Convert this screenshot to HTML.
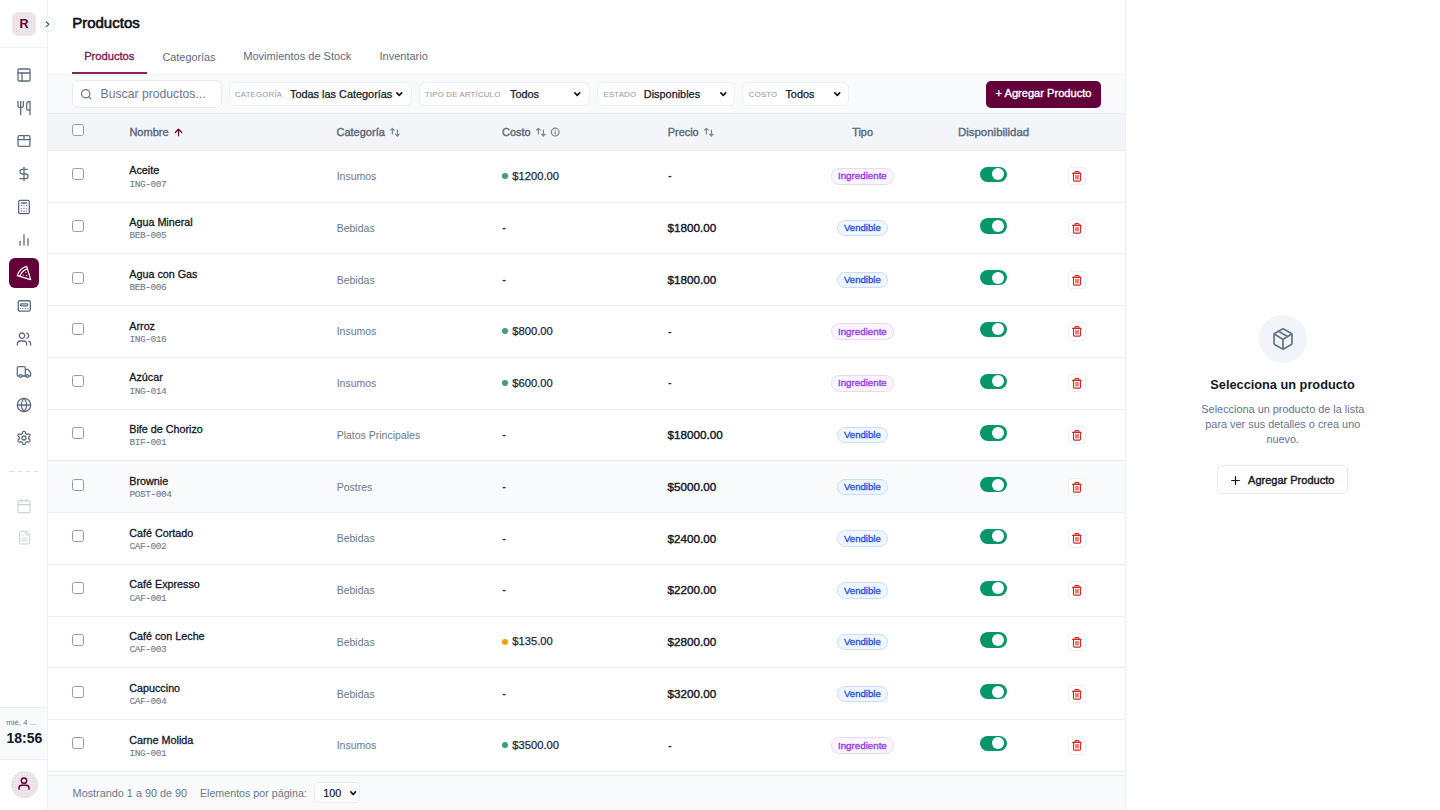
<!DOCTYPE html><html><head><meta charset="utf-8"><style>
html,body{margin:0;padding:0;width:1440px;height:810px;overflow:hidden;background:#fff;font-family:"Liberation Sans",sans-serif;}
body{position:relative;}
</style></head><body>
<div style="position:absolute;left:47.00px;top:0.00px;width:1.00px;height:810.00px;background:#eef1f5;"></div>
<div style="position:absolute;left:0.00px;top:47.00px;width:47.00px;height:1.00px;background:#eef1f5;"></div>
<div style="position:absolute;left:12.00px;top:12.00px;width:24.00px;height:24.00px;background-color:#ebe7eb;background-image:radial-gradient(circle, rgba(250,170,160,0.45) 0.6px, transparent 0.9px);background-size:3px 3px;border-radius:6px;"></div>
<div style="position:absolute;top:18.23px;font-size:12.6px;line-height:12.6px;font-weight:700;color:#63003a;white-space:nowrap;left:-275.90px;width:600px;text-align:center;">R</div>
<div style="position:absolute;left:40.00px;top:17.00px;width:15.00px;height:15.00px;background:#fff;border:1px solid #e3e7ed;border-radius:50%;box-sizing:border-box;"></div>
<svg style="position:absolute;left:40px;top:17px" width="15" height="15" viewBox="0 0 15 15" fill="none" stroke="#4b5563" stroke-width="1.25" stroke-linecap="round" stroke-linejoin="round"><path d="M6.3 5L8.9 7.3L6.3 9.6"/></svg>
<svg style="position:absolute;left:16.10px;top:67.00px;" width="16" height="16" viewBox="0 0 24 24" fill="none" stroke="#5b6b7e" stroke-width="1.9" stroke-linecap="round" stroke-linejoin="round"><rect width="18" height="18" x="3" y="3" rx="2"/><path d="M3 9h18"/><path d="M9 21V9"/></svg>
<svg style="position:absolute;left:16.10px;top:100.00px;" width="16" height="16" viewBox="0 0 24 24" fill="none" stroke="#5b6b7e" stroke-width="1.9" stroke-linecap="round" stroke-linejoin="round"><path d="M3 2v7c0 1.1.9 2 2 2h4a2 2 0 0 0 2-2V2"/><path d="M7 2v20"/><path d="M21 15V2a5 5 0 0 0-5 5v6c0 1.1.9 2 2 2h3Zm0 0v7"/></svg>
<svg style="position:absolute;left:16.10px;top:133.00px;" width="16" height="16" viewBox="0 0 24 24" fill="none" stroke="#5b6b7e" stroke-width="1.9" stroke-linecap="round" stroke-linejoin="round"><rect width="18" height="16" x="3" y="4" rx="2"/><path d="M3 10h18"/><path d="M12 4v6"/></svg>
<svg style="position:absolute;left:16.10px;top:166.00px;" width="16" height="16" viewBox="0 0 24 24" fill="none" stroke="#5b6b7e" stroke-width="1.9" stroke-linecap="round" stroke-linejoin="round"><line x1="12" x2="12" y1="2" y2="22"/><path d="M17 5H9.5a3.5 3.5 0 0 0 0 7h5a3.5 3.5 0 0 1 0 7H6"/></svg>
<svg style="position:absolute;left:16.10px;top:199.00px;" width="16" height="16" viewBox="0 0 24 24" fill="none" stroke="#5b6b7e" stroke-width="1.9" stroke-linecap="round" stroke-linejoin="round"><rect width="16" height="20" x="4" y="2" rx="2"/><line x1="8" x2="16" y1="6" y2="6"/><path d="M16 10h.01"/><path d="M12 10h.01"/><path d="M8 10h.01"/><path d="M16 14h.01"/><path d="M12 14h.01"/><path d="M8 14h.01"/><path d="M16 18h.01"/><path d="M12 18h.01"/><path d="M8 18h.01"/></svg>
<svg style="position:absolute;left:16.10px;top:232.00px;" width="16" height="16" viewBox="0 0 24 24" fill="none" stroke="#5b6b7e" stroke-width="1.9" stroke-linecap="round" stroke-linejoin="round"><line x1="18" x2="18" y1="20" y2="10"/><line x1="12" x2="12" y1="20" y2="4"/><line x1="6" x2="6" y1="20" y2="14"/></svg>
<div style="position:absolute;left:9.00px;top:258.00px;width:30.00px;height:30.00px;background:#63003a;border-radius:6px;"></div>
<svg style="position:absolute;left:15.90px;top:265.00px;" width="16" height="16" viewBox="0 0 24 24" fill="none" stroke="#fff" stroke-width="1.8" stroke-linecap="round" stroke-linejoin="round"><path d="M15 11h.01"/><path d="M11 15h.01"/><path d="M16 16h.01"/><path d="m2 16 20 6-6-20A20 20 0 0 0 2 16"/><path d="M5.71 17.11a17.04 17.04 0 0 1 11.4-11.4"/></svg>
<svg style="position:absolute;left:14px;top:296px" width="22" height="20" viewBox="0 0 22 20" fill="none" stroke="#5b6b7e" stroke-width="1.3" stroke-linecap="round" stroke-linejoin="round"><rect x="4.25" y="4.75" width="12.1" height="10.4" rx="1.6"/><rect x="6.65" y="7.85" width="7" height="2.1" rx="0.8"/><g fill="#5b6b7e" stroke="none"><circle cx="6.5" cy="12.5" r="0.6"/><circle cx="8.9" cy="12.5" r="0.6"/><circle cx="11.4" cy="12.5" r="0.6"/><circle cx="14" cy="12.5" r="0.6"/></g></svg>
<svg style="position:absolute;left:16.10px;top:331.00px;" width="16" height="16" viewBox="0 0 24 24" fill="none" stroke="#5b6b7e" stroke-width="1.9" stroke-linecap="round" stroke-linejoin="round"><path d="M16 21v-2a4 4 0 0 0-4-4H6a4 4 0 0 0-4 4v2"/><circle cx="9" cy="7" r="4"/><path d="M22 21v-2a4 4 0 0 0-3-3.87"/><path d="M16 3.13a4 4 0 0 1 0 7.75"/></svg>
<svg style="position:absolute;left:16.10px;top:364.00px;" width="16" height="16" viewBox="0 0 24 24" fill="none" stroke="#5b6b7e" stroke-width="1.9" stroke-linecap="round" stroke-linejoin="round"><path d="M14 18V6a2 2 0 0 0-2-2H4a2 2 0 0 0-2 2v11a1 1 0 0 0 1 1h2"/><path d="M15 18H9"/><path d="M19 18h2a1 1 0 0 0 1-1v-3.65a1 1 0 0 0-.22-.624l-3.48-4.35A1 1 0 0 0 17.520 8H14"/><circle cx="17" cy="18" r="2"/><circle cx="7" cy="18" r="2"/></svg>
<svg style="position:absolute;left:16.10px;top:397.00px;" width="16" height="16" viewBox="0 0 24 24" fill="none" stroke="#5b6b7e" stroke-width="1.9" stroke-linecap="round" stroke-linejoin="round"><circle cx="12" cy="12" r="10"/><path d="M12 2a14.5 14.5 0 0 0 0 20 14.5 14.5 0 0 0 0-20"/><path d="M2 12h20"/></svg>
<svg style="position:absolute;left:16.10px;top:430.00px;" width="16" height="16" viewBox="0 0 24 24" fill="none" stroke="#5b6b7e" stroke-width="1.9" stroke-linecap="round" stroke-linejoin="round"><path d="M12.22 2h-.44a2 2 0 0 0-2 2v.18a2 2 0 0 1-1 1.73l-.43.25a2 2 0 0 1-2 0l-.15-.08a2 2 0 0 0-2.73.73l-.22.38a2 2 0 0 0 .73 2.730l.15.1a2 2 0 0 1 1 1.72v.51a2 2 0 0 1-1 1.74l-.15.09a2 2 0 0 0-.73 2.73l.22.38a2 2 0 0 0 2.73.73l.15-.08a2 2 0 0 1 2 0l.43.25a2 2 0 0 1 1 1.73V20a2 2 0 0 0 2 2h.44a2 2 0 0 0 2-2v-.18a2 2 0 0 1 1-1.73l.43-.25a2 2 0 0 1 2 0l.15.08a2 2 0 0 0 2.73-.73l.22-.39a2 2 0 0 0-.73-2.73l-.15-.08a2 2 0 0 1-1-1.74v-.5a2 2 0 0 1 1-1.74l.15-.09a2 2 0 0 0 .73-2.73l-.22-.38a2 2 0 0 0-2.73-.73l-.15.08a2 2 0 0 1-2 0l-.43-.25a2 2 0 0 1-1-1.73V4a2 2 0 0 0-2-2z"/><circle cx="12" cy="12" r="3"/></svg>
<div style="position:absolute;left:9.20px;top:471.00px;width:4.40px;height:1.20px;background:#e2d9de;"></div>
<div style="position:absolute;left:17.50px;top:471.00px;width:4.40px;height:1.20px;background:#e2d9de;"></div>
<div style="position:absolute;left:25.80px;top:471.00px;width:4.40px;height:1.20px;background:#e2d9de;"></div>
<div style="position:absolute;left:34.10px;top:471.00px;width:4.40px;height:1.20px;background:#e2d9de;"></div>
<svg style="position:absolute;left:16.20px;top:497.50px;" width="16" height="16" viewBox="0 0 24 24" fill="none" stroke="#cdd3da" stroke-width="1.7" stroke-linecap="round" stroke-linejoin="round"><path d="M8 2v4"/><path d="M16 2v4"/><rect width="18" height="18" x="3" y="4" rx="2"/><path d="M3 10h18"/></svg>
<svg style="position:absolute;left:16.70px;top:530.40px;" width="15.2" height="15.2" viewBox="0 0 24 24" fill="none" stroke="#cdd3da" stroke-width="1.7" stroke-linecap="round" stroke-linejoin="round"><path d="M15 2H6a2 2 0 0 0-2 2v16a2 2 0 0 0 2 2h12a2 2 0 0 0 2-2V7Z"/><path d="M14 2v4a2 2 0 0 0 2 2h4"/><path d="M10 9H8"/><path d="M16 13H8"/><path d="M16 17H8"/></svg>
<div style="position:absolute;left:0.00px;top:707.00px;width:47.00px;height:51.00px;background:#f8fafc;border-top:1px solid #eef1f5;border-bottom:1px solid #eef1f5;"></div>
<div style="position:absolute;top:718.50px;font-size:7.8px;line-height:7.8px;font-weight:400;color:#6b7280;white-space:nowrap;left:6.30px;">mié, 4 ...</div>
<div style="position:absolute;top:730.95px;font-size:14.0px;line-height:14.0px;font-weight:700;color:#111827;white-space:nowrap;left:6.50px;">18:56</div>
<div style="position:absolute;left:11.00px;top:770.50px;width:27.00px;height:27.00px;background-color:#ebe7eb;background-image:radial-gradient(circle, rgba(250,170,160,0.45) 0.6px, transparent 0.9px);background-size:3px 3px;border-radius:50%;"></div>
<svg style="position:absolute;left:16.20px;top:776.20px;" width="16" height="16" viewBox="0 0 24 24" fill="none" stroke="#63003a" stroke-width="2.2" stroke-linecap="round" stroke-linejoin="round"><circle cx="12" cy="7" r="4"/><path d="M19.5 20v-2a4 4 0 0 0-4-4h-7a4 4 0 0 0-4 4v2"/></svg>
<div style="position:absolute;left:1125.00px;top:0.00px;width:1.00px;height:810.00px;background:#eef1f5;"></div>
<div style="position:absolute;top:15.20px;font-size:15px;line-height:15px;font-weight:400;color:#0b1020;white-space:nowrap;-webkit-text-stroke:0.6px #0b1020;left:72.20px;">Productos</div>
<div style="position:absolute;top:51.26px;font-size:11.15px;line-height:11.15px;font-weight:400;color:#7a1d52;white-space:nowrap;-webkit-text-stroke:0.35px #7a1d52;left:84.20px;">Productos</div>
<div style="position:absolute;top:51.52px;font-size:10.85px;line-height:10.85px;font-weight:400;color:#5e6b7c;white-space:nowrap;left:162.50px;">Categorías</div>
<div style="position:absolute;top:51.35px;font-size:11.05px;line-height:11.05px;font-weight:400;color:#5e6b7c;white-space:nowrap;left:243.20px;">Movimientos de Stock</div>
<div style="position:absolute;top:51.39px;font-size:11.0px;line-height:11.0px;font-weight:400;color:#5e6b7c;white-space:nowrap;left:379.50px;">Inventario</div>
<div style="position:absolute;left:72.00px;top:72.00px;width:75.00px;height:2.00px;background:#8a2358;"></div>
<div style="position:absolute;left:48.00px;top:74.00px;width:1077.00px;height:39.00px;background:#f8fafc;border-top:1px solid #eef1f5;box-sizing:border-box;"></div>
<div style="position:absolute;left:72.00px;top:80.00px;width:150.00px;height:27.50px;background:#fff;border:1px solid #e8ecf1;border-radius:6px;box-sizing:border-box;"></div>
<svg style="position:absolute;left:80.10px;top:87.70px;" width="12.5" height="12.5" viewBox="0 0 24 24" fill="none" stroke="#64748b" stroke-width="2.2" stroke-linecap="round" stroke-linejoin="round"><circle cx="11" cy="11" r="8"/><path d="m21 21-4.3-4.3"/></svg>
<div style="position:absolute;top:87.67px;font-size:12.2px;line-height:12.2px;font-weight:400;color:#6b7889;white-space:nowrap;left:100.60px;">Buscar productos...</div>
<div style="position:absolute;left:228.50px;top:81.50px;width:183.00px;height:24.50px;background:#fff;border:1px solid #edf0f4;border-radius:6px;box-sizing:border-box;"></div>
<div style="position:absolute;top:90.50px;font-size:7.8px;line-height:7.8px;font-weight:400;color:#9aa3af;white-space:nowrap;-webkit-text-stroke:0.12px #9aa3af;letter-spacing:0.2px;left:235.00px;">CATEGORÍA</div>
<div style="position:absolute;top:89.27px;font-size:10.9px;line-height:10.9px;font-weight:400;color:#111827;white-space:nowrap;-webkit-text-stroke:0.25px #111827;left:290.00px;">Todas las Categorías</div>
<svg style="position:absolute;left:394.00px;top:90.00px" width="10.5" height="8.2" viewBox="0 0 10.5 8.2" fill="none" stroke="#111827" stroke-width="1.7" stroke-linecap="round" stroke-linejoin="round"><path d="M2.85 2.85 L5.25 5.3500000000000005 L7.65 2.85"/></svg>
<div style="position:absolute;left:418.50px;top:81.50px;width:171.50px;height:24.50px;background:#fff;border:1px solid #edf0f4;border-radius:6px;box-sizing:border-box;"></div>
<div style="position:absolute;top:90.50px;font-size:7.8px;line-height:7.8px;font-weight:400;color:#9aa3af;white-space:nowrap;-webkit-text-stroke:0.12px #9aa3af;letter-spacing:0.2px;left:425.00px;">TIPO DE ARTÍCULO</div>
<div style="position:absolute;top:89.27px;font-size:10.9px;line-height:10.9px;font-weight:400;color:#111827;white-space:nowrap;-webkit-text-stroke:0.25px #111827;left:510.00px;">Todos</div>
<svg style="position:absolute;left:572.20px;top:90.00px" width="10.5" height="8.2" viewBox="0 0 10.5 8.2" fill="none" stroke="#111827" stroke-width="1.7" stroke-linecap="round" stroke-linejoin="round"><path d="M2.85 2.85 L5.25 5.3500000000000005 L7.65 2.85"/></svg>
<div style="position:absolute;left:597.00px;top:81.50px;width:138.30px;height:24.50px;background:#fff;border:1px solid #edf0f4;border-radius:6px;box-sizing:border-box;"></div>
<div style="position:absolute;top:90.50px;font-size:7.8px;line-height:7.8px;font-weight:400;color:#9aa3af;white-space:nowrap;-webkit-text-stroke:0.12px #9aa3af;letter-spacing:0.2px;left:603.50px;">ESTADO</div>
<div style="position:absolute;top:89.27px;font-size:10.9px;line-height:10.9px;font-weight:400;color:#111827;white-space:nowrap;-webkit-text-stroke:0.25px #111827;left:643.80px;">Disponibles</div>
<svg style="position:absolute;left:718.00px;top:90.00px" width="10.5" height="8.2" viewBox="0 0 10.5 8.2" fill="none" stroke="#111827" stroke-width="1.7" stroke-linecap="round" stroke-linejoin="round"><path d="M2.85 2.85 L5.25 5.3500000000000005 L7.65 2.85"/></svg>
<div style="position:absolute;left:742.30px;top:81.50px;width:106.70px;height:24.50px;background:#fff;border:1px solid #edf0f4;border-radius:6px;box-sizing:border-box;"></div>
<div style="position:absolute;top:90.50px;font-size:7.8px;line-height:7.8px;font-weight:400;color:#9aa3af;white-space:nowrap;-webkit-text-stroke:0.12px #9aa3af;letter-spacing:0.2px;left:748.80px;">COSTO</div>
<div style="position:absolute;top:89.27px;font-size:10.9px;line-height:10.9px;font-weight:400;color:#111827;white-space:nowrap;-webkit-text-stroke:0.25px #111827;left:785.40px;">Todos</div>
<svg style="position:absolute;left:831.80px;top:90.00px" width="10.5" height="8.2" viewBox="0 0 10.5 8.2" fill="none" stroke="#111827" stroke-width="1.7" stroke-linecap="round" stroke-linejoin="round"><path d="M2.85 2.85 L5.25 5.3500000000000005 L7.65 2.85"/></svg>
<div style="position:absolute;left:986.00px;top:80.50px;width:115.00px;height:27.00px;background:#63003a;border-radius:5px;"></div>
<div style="position:absolute;top:88.35px;font-size:11.1px;line-height:11.1px;font-weight:400;color:#fff;white-space:nowrap;-webkit-text-stroke:0.35px #fff;left:743.50px;width:600px;text-align:center;">+ Agregar Producto</div>
<div style="position:absolute;left:48.00px;top:113.00px;width:1077.00px;height:38.00px;background:#f3f5f9;border-top:1px solid #e9edf2;border-bottom:1px solid #e9edf2;box-sizing:border-box;"></div>
<div style="position:absolute;left:72.20px;top:124.20px;width:12.20px;height:12.20px;background:#fff;border:1px solid #939dab;border-radius:2.5px;box-sizing:border-box;"></div>
<div style="position:absolute;top:127.15px;font-size:11.05px;line-height:11.05px;font-weight:400;color:#5b6b7c;white-space:nowrap;-webkit-text-stroke:0.4px #5b6b7c;left:129.40px;">Nombre</div>
<svg style="position:absolute;left:173.00px;top:127.00px;" width="11" height="11" viewBox="0 0 24 24" fill="none" stroke="#63003a" stroke-width="2.6" stroke-linecap="round" stroke-linejoin="round"><path d="m5 12 7-7 7 7"/><path d="M12 19V5"/></svg>
<div style="position:absolute;top:127.19px;font-size:11.0px;line-height:11.0px;font-weight:400;color:#5b6b7c;white-space:nowrap;-webkit-text-stroke:0.4px #5b6b7c;left:336.50px;">Categoría</div>
<svg style="position:absolute;left:389.00px;top:126.00px" width="12" height="12" viewBox="0 0 12 12" fill="none" stroke="#7a8799" stroke-width="1.2" stroke-linecap="round" stroke-linejoin="round"><path d="M3.4 2.4V8M1.6 4.2L3.4 2.4L5.2 4.2"/><path d="M8.4 4.2V10M6.6 8.2L8.4 10L10.2 8.2"/></svg>
<div style="position:absolute;top:127.27px;font-size:10.9px;line-height:10.9px;font-weight:400;color:#5b6b7c;white-space:nowrap;-webkit-text-stroke:0.4px #5b6b7c;left:502.10px;">Costo</div>
<svg style="position:absolute;left:535.00px;top:126.00px" width="12" height="12" viewBox="0 0 12 12" fill="none" stroke="#7a8799" stroke-width="1.2" stroke-linecap="round" stroke-linejoin="round"><path d="M3.4 2.4V8M1.6 4.2L3.4 2.4L5.2 4.2"/><path d="M8.4 4.2V10M6.6 8.2L8.4 10L10.2 8.2"/></svg>
<svg style="position:absolute;left:549.00px;top:126.00px" width="12" height="12" viewBox="0 0 12 12" fill="none" stroke="#7a8799" stroke-width="1.2" stroke-linecap="round" stroke-linejoin="round"><circle cx="6.2" cy="6.1" r="3.9"/><path d="M6.2 5.7V7.9"/><path d="M6.2 4.1h.01"/></svg>
<div style="position:absolute;top:127.27px;font-size:10.9px;line-height:10.9px;font-weight:400;color:#5b6b7c;white-space:nowrap;-webkit-text-stroke:0.4px #5b6b7c;left:667.80px;">Precio</div>
<svg style="position:absolute;left:702.80px;top:126.00px" width="12" height="12" viewBox="0 0 12 12" fill="none" stroke="#7a8799" stroke-width="1.2" stroke-linecap="round" stroke-linejoin="round"><path d="M3.4 2.4V8M1.6 4.2L3.4 2.4L5.2 4.2"/><path d="M8.4 4.2V10M6.6 8.2L8.4 10L10.2 8.2"/></svg>
<div style="position:absolute;top:127.27px;font-size:10.9px;line-height:10.9px;font-weight:400;color:#5b6b7c;white-space:nowrap;-webkit-text-stroke:0.4px #5b6b7c;left:562.60px;width:600px;text-align:center;">Tipo</div>
<div style="position:absolute;top:126.81px;font-size:11.45px;line-height:11.45px;font-weight:400;color:#5b6b7c;white-space:nowrap;-webkit-text-stroke:0.4px #5b6b7c;left:693.60px;width:600px;text-align:center;">Disponibilidad</div>
<div style="position:absolute;left:48.00px;top:201.50px;width:1077.00px;height:1.00px;background:#e9edf2;"></div>
<div style="position:absolute;left:72.20px;top:168.05px;width:12.20px;height:12.20px;background:#fff;border:1px solid #939dab;border-radius:2.5px;box-sizing:border-box;"></div>
<div style="position:absolute;top:165.25px;font-size:10.75px;line-height:10.75px;font-weight:400;color:#111827;white-space:nowrap;-webkit-text-stroke:0.3px #111827;left:129.30px;">Aceite</div>
<div style="position:absolute;top:179.61px;font-size:9.5px;line-height:9.5px;font-weight:400;color:#6f7c8e;white-space:nowrap;-webkit-text-stroke:0.1px #6f7c8e;font-family:'Liberation Mono', monospace;letter-spacing:-0.45px;left:129.50px;">ING-007</div>
<div style="position:absolute;top:171.16px;font-size:10.5px;line-height:10.5px;font-weight:400;color:#6b7889;white-space:nowrap;left:336.70px;">Insumos</div>
<div style="position:absolute;left:502.00px;top:173.05px;width:6.00px;height:6.00px;background:#3d9c7e;border-radius:50%;"></div>
<div style="position:absolute;top:170.67px;font-size:11.2px;line-height:11.2px;font-weight:400;color:#1f2937;white-space:nowrap;-webkit-text-stroke:0.25px #1f2937;left:512.30px;">$1200.00</div>
<div style="position:absolute;top:170.44px;font-size:11px;line-height:11px;font-weight:700;color:#1f2937;white-space:nowrap;left:668.00px;">-</div>
<div style="position:absolute;left:831.00px;top:168.20px;width:63.00px;height:16.50px;background:#faf5ff;border:1px solid #ead8fc;border-radius:9px;box-sizing:border-box;"></div>
<div style="position:absolute;top:171.40px;font-size:9.75px;line-height:9.75px;font-weight:400;color:#9333ea;white-space:nowrap;-webkit-text-stroke:0.3px #9333ea;left:562.40px;width:600px;text-align:center;">Ingrediente</div>
<div style="position:absolute;left:980.00px;top:166.50px;width:27.00px;height:15.30px;background:#069669;border-radius:8px;"></div>
<div style="position:absolute;left:992.10px;top:168.10px;width:12.00px;height:12.00px;background:#fff;border-radius:50%;"></div>
<div style="position:absolute;left:1068.20px;top:167.20px;width:17.50px;height:18.30px;background:#fff;border:1px solid #edf0f4;border-radius:4px;box-sizing:border-box;"></div>
<svg style="position:absolute;left:1066px;top:165.00px" width="22" height="22" viewBox="0 0 22 22" fill="none" stroke="#dc2626" stroke-width="1.15" stroke-linecap="round" stroke-linejoin="round"><path d="M6.65 8.4H15.05"/><path d="M9 8.4V7.4a0.8 0.8 0 0 1 .8-.8h2.4a.8 .8 0 0 1 .8.8V8.4"/><path d="M7.5 8.4V15.2a.9 .9 0 0 0 .9.9h5.2a.9 .9 0 0 0 .9-.9V8.4"/><path d="M10 10.6V14"/><path d="M12 10.6V14"/></svg>
<div style="position:absolute;left:48.00px;top:253.25px;width:1077.00px;height:1.00px;background:#e9edf2;"></div>
<div style="position:absolute;left:72.20px;top:219.80px;width:12.20px;height:12.20px;background:#fff;border:1px solid #939dab;border-radius:2.5px;box-sizing:border-box;"></div>
<div style="position:absolute;top:217.00px;font-size:10.75px;line-height:10.75px;font-weight:400;color:#111827;white-space:nowrap;-webkit-text-stroke:0.3px #111827;left:129.30px;">Agua Mineral</div>
<div style="position:absolute;top:231.36px;font-size:9.5px;line-height:9.5px;font-weight:400;color:#6f7c8e;white-space:nowrap;-webkit-text-stroke:0.1px #6f7c8e;font-family:'Liberation Mono', monospace;letter-spacing:-0.45px;left:129.50px;">BEB-005</div>
<div style="position:absolute;top:222.91px;font-size:10.5px;line-height:10.5px;font-weight:400;color:#6b7889;white-space:nowrap;left:336.70px;">Bebidas</div>
<div style="position:absolute;top:222.19px;font-size:11px;line-height:11px;font-weight:700;color:#1f2937;white-space:nowrap;left:502.30px;">-</div>
<div style="position:absolute;top:222.00px;font-size:11.7px;line-height:11.7px;font-weight:400;color:#111827;white-space:nowrap;-webkit-text-stroke:0.4px #111827;left:667.60px;">$1800.00</div>
<div style="position:absolute;left:837.00px;top:219.95px;width:51.00px;height:16.50px;background:#eff6ff;border:1px solid #c9defc;border-radius:9px;box-sizing:border-box;"></div>
<div style="position:absolute;top:223.27px;font-size:9.6px;line-height:9.6px;font-weight:400;color:#1d4ed8;white-space:nowrap;-webkit-text-stroke:0.3px #1d4ed8;left:562.40px;width:600px;text-align:center;">Vendible</div>
<div style="position:absolute;left:980.00px;top:218.25px;width:27.00px;height:15.30px;background:#069669;border-radius:8px;"></div>
<div style="position:absolute;left:992.10px;top:219.85px;width:12.00px;height:12.00px;background:#fff;border-radius:50%;"></div>
<div style="position:absolute;left:1068.20px;top:218.95px;width:17.50px;height:18.30px;background:#fff;border:1px solid #edf0f4;border-radius:4px;box-sizing:border-box;"></div>
<svg style="position:absolute;left:1066px;top:216.75px" width="22" height="22" viewBox="0 0 22 22" fill="none" stroke="#dc2626" stroke-width="1.15" stroke-linecap="round" stroke-linejoin="round"><path d="M6.65 8.4H15.05"/><path d="M9 8.4V7.4a0.8 0.8 0 0 1 .8-.8h2.4a.8 .8 0 0 1 .8.8V8.4"/><path d="M7.5 8.4V15.2a.9 .9 0 0 0 .9.9h5.2a.9 .9 0 0 0 .9-.9V8.4"/><path d="M10 10.6V14"/><path d="M12 10.6V14"/></svg>
<div style="position:absolute;left:48.00px;top:305.00px;width:1077.00px;height:1.00px;background:#e9edf2;"></div>
<div style="position:absolute;left:72.20px;top:271.55px;width:12.20px;height:12.20px;background:#fff;border:1px solid #939dab;border-radius:2.5px;box-sizing:border-box;"></div>
<div style="position:absolute;top:268.75px;font-size:10.75px;line-height:10.75px;font-weight:400;color:#111827;white-space:nowrap;-webkit-text-stroke:0.3px #111827;left:129.30px;">Agua con Gas</div>
<div style="position:absolute;top:283.11px;font-size:9.5px;line-height:9.5px;font-weight:400;color:#6f7c8e;white-space:nowrap;-webkit-text-stroke:0.1px #6f7c8e;font-family:'Liberation Mono', monospace;letter-spacing:-0.45px;left:129.50px;">BEB-006</div>
<div style="position:absolute;top:274.66px;font-size:10.5px;line-height:10.5px;font-weight:400;color:#6b7889;white-space:nowrap;left:336.70px;">Bebidas</div>
<div style="position:absolute;top:273.94px;font-size:11px;line-height:11px;font-weight:700;color:#1f2937;white-space:nowrap;left:502.30px;">-</div>
<div style="position:absolute;top:273.75px;font-size:11.7px;line-height:11.7px;font-weight:400;color:#111827;white-space:nowrap;-webkit-text-stroke:0.4px #111827;left:667.60px;">$1800.00</div>
<div style="position:absolute;left:837.00px;top:271.70px;width:51.00px;height:16.50px;background:#eff6ff;border:1px solid #c9defc;border-radius:9px;box-sizing:border-box;"></div>
<div style="position:absolute;top:275.02px;font-size:9.6px;line-height:9.6px;font-weight:400;color:#1d4ed8;white-space:nowrap;-webkit-text-stroke:0.3px #1d4ed8;left:562.40px;width:600px;text-align:center;">Vendible</div>
<div style="position:absolute;left:980.00px;top:270.00px;width:27.00px;height:15.30px;background:#069669;border-radius:8px;"></div>
<div style="position:absolute;left:992.10px;top:271.60px;width:12.00px;height:12.00px;background:#fff;border-radius:50%;"></div>
<div style="position:absolute;left:1068.20px;top:270.70px;width:17.50px;height:18.30px;background:#fff;border:1px solid #edf0f4;border-radius:4px;box-sizing:border-box;"></div>
<svg style="position:absolute;left:1066px;top:268.50px" width="22" height="22" viewBox="0 0 22 22" fill="none" stroke="#dc2626" stroke-width="1.15" stroke-linecap="round" stroke-linejoin="round"><path d="M6.65 8.4H15.05"/><path d="M9 8.4V7.4a0.8 0.8 0 0 1 .8-.8h2.4a.8 .8 0 0 1 .8.8V8.4"/><path d="M7.5 8.4V15.2a.9 .9 0 0 0 .9.9h5.2a.9 .9 0 0 0 .9-.9V8.4"/><path d="M10 10.6V14"/><path d="M12 10.6V14"/></svg>
<div style="position:absolute;left:48.00px;top:356.75px;width:1077.00px;height:1.00px;background:#e9edf2;"></div>
<div style="position:absolute;left:72.20px;top:323.30px;width:12.20px;height:12.20px;background:#fff;border:1px solid #939dab;border-radius:2.5px;box-sizing:border-box;"></div>
<div style="position:absolute;top:320.50px;font-size:10.75px;line-height:10.75px;font-weight:400;color:#111827;white-space:nowrap;-webkit-text-stroke:0.3px #111827;left:129.30px;">Arroz</div>
<div style="position:absolute;top:334.86px;font-size:9.5px;line-height:9.5px;font-weight:400;color:#6f7c8e;white-space:nowrap;-webkit-text-stroke:0.1px #6f7c8e;font-family:'Liberation Mono', monospace;letter-spacing:-0.45px;left:129.50px;">ING-016</div>
<div style="position:absolute;top:326.41px;font-size:10.5px;line-height:10.5px;font-weight:400;color:#6b7889;white-space:nowrap;left:336.70px;">Insumos</div>
<div style="position:absolute;left:502.00px;top:328.30px;width:6.00px;height:6.00px;background:#3d9c7e;border-radius:50%;"></div>
<div style="position:absolute;top:325.92px;font-size:11.2px;line-height:11.2px;font-weight:400;color:#1f2937;white-space:nowrap;-webkit-text-stroke:0.25px #1f2937;left:512.30px;">$800.00</div>
<div style="position:absolute;top:325.69px;font-size:11px;line-height:11px;font-weight:700;color:#1f2937;white-space:nowrap;left:668.00px;">-</div>
<div style="position:absolute;left:831.00px;top:323.45px;width:63.00px;height:16.50px;background:#faf5ff;border:1px solid #ead8fc;border-radius:9px;box-sizing:border-box;"></div>
<div style="position:absolute;top:326.65px;font-size:9.75px;line-height:9.75px;font-weight:400;color:#9333ea;white-space:nowrap;-webkit-text-stroke:0.3px #9333ea;left:562.40px;width:600px;text-align:center;">Ingrediente</div>
<div style="position:absolute;left:980.00px;top:321.75px;width:27.00px;height:15.30px;background:#069669;border-radius:8px;"></div>
<div style="position:absolute;left:992.10px;top:323.35px;width:12.00px;height:12.00px;background:#fff;border-radius:50%;"></div>
<div style="position:absolute;left:1068.20px;top:322.45px;width:17.50px;height:18.30px;background:#fff;border:1px solid #edf0f4;border-radius:4px;box-sizing:border-box;"></div>
<svg style="position:absolute;left:1066px;top:320.25px" width="22" height="22" viewBox="0 0 22 22" fill="none" stroke="#dc2626" stroke-width="1.15" stroke-linecap="round" stroke-linejoin="round"><path d="M6.65 8.4H15.05"/><path d="M9 8.4V7.4a0.8 0.8 0 0 1 .8-.8h2.4a.8 .8 0 0 1 .8.8V8.4"/><path d="M7.5 8.4V15.2a.9 .9 0 0 0 .9.9h5.2a.9 .9 0 0 0 .9-.9V8.4"/><path d="M10 10.6V14"/><path d="M12 10.6V14"/></svg>
<div style="position:absolute;left:48.00px;top:408.50px;width:1077.00px;height:1.00px;background:#e9edf2;"></div>
<div style="position:absolute;left:72.20px;top:375.05px;width:12.20px;height:12.20px;background:#fff;border:1px solid #939dab;border-radius:2.5px;box-sizing:border-box;"></div>
<div style="position:absolute;top:372.25px;font-size:10.75px;line-height:10.75px;font-weight:400;color:#111827;white-space:nowrap;-webkit-text-stroke:0.3px #111827;left:129.30px;">Azúcar</div>
<div style="position:absolute;top:386.61px;font-size:9.5px;line-height:9.5px;font-weight:400;color:#6f7c8e;white-space:nowrap;-webkit-text-stroke:0.1px #6f7c8e;font-family:'Liberation Mono', monospace;letter-spacing:-0.45px;left:129.50px;">ING-014</div>
<div style="position:absolute;top:378.16px;font-size:10.5px;line-height:10.5px;font-weight:400;color:#6b7889;white-space:nowrap;left:336.70px;">Insumos</div>
<div style="position:absolute;left:502.00px;top:380.05px;width:6.00px;height:6.00px;background:#3d9c7e;border-radius:50%;"></div>
<div style="position:absolute;top:377.67px;font-size:11.2px;line-height:11.2px;font-weight:400;color:#1f2937;white-space:nowrap;-webkit-text-stroke:0.25px #1f2937;left:512.30px;">$600.00</div>
<div style="position:absolute;top:377.44px;font-size:11px;line-height:11px;font-weight:700;color:#1f2937;white-space:nowrap;left:668.00px;">-</div>
<div style="position:absolute;left:831.00px;top:375.20px;width:63.00px;height:16.50px;background:#faf5ff;border:1px solid #ead8fc;border-radius:9px;box-sizing:border-box;"></div>
<div style="position:absolute;top:378.40px;font-size:9.75px;line-height:9.75px;font-weight:400;color:#9333ea;white-space:nowrap;-webkit-text-stroke:0.3px #9333ea;left:562.40px;width:600px;text-align:center;">Ingrediente</div>
<div style="position:absolute;left:980.00px;top:373.50px;width:27.00px;height:15.30px;background:#069669;border-radius:8px;"></div>
<div style="position:absolute;left:992.10px;top:375.10px;width:12.00px;height:12.00px;background:#fff;border-radius:50%;"></div>
<div style="position:absolute;left:1068.20px;top:374.20px;width:17.50px;height:18.30px;background:#fff;border:1px solid #edf0f4;border-radius:4px;box-sizing:border-box;"></div>
<svg style="position:absolute;left:1066px;top:372.00px" width="22" height="22" viewBox="0 0 22 22" fill="none" stroke="#dc2626" stroke-width="1.15" stroke-linecap="round" stroke-linejoin="round"><path d="M6.65 8.4H15.05"/><path d="M9 8.4V7.4a0.8 0.8 0 0 1 .8-.8h2.4a.8 .8 0 0 1 .8.8V8.4"/><path d="M7.5 8.4V15.2a.9 .9 0 0 0 .9.9h5.2a.9 .9 0 0 0 .9-.9V8.4"/><path d="M10 10.6V14"/><path d="M12 10.6V14"/></svg>
<div style="position:absolute;left:48.00px;top:460.25px;width:1077.00px;height:1.00px;background:#e9edf2;"></div>
<div style="position:absolute;left:72.20px;top:426.80px;width:12.20px;height:12.20px;background:#fff;border:1px solid #939dab;border-radius:2.5px;box-sizing:border-box;"></div>
<div style="position:absolute;top:424.00px;font-size:10.75px;line-height:10.75px;font-weight:400;color:#111827;white-space:nowrap;-webkit-text-stroke:0.3px #111827;left:129.30px;">Bife de Chorizo</div>
<div style="position:absolute;top:438.36px;font-size:9.5px;line-height:9.5px;font-weight:400;color:#6f7c8e;white-space:nowrap;-webkit-text-stroke:0.1px #6f7c8e;font-family:'Liberation Mono', monospace;letter-spacing:-0.45px;left:129.50px;">BIF-001</div>
<div style="position:absolute;top:429.91px;font-size:10.5px;line-height:10.5px;font-weight:400;color:#6b7889;white-space:nowrap;left:336.70px;">Platos Principales</div>
<div style="position:absolute;top:429.19px;font-size:11px;line-height:11px;font-weight:700;color:#1f2937;white-space:nowrap;left:502.30px;">-</div>
<div style="position:absolute;top:429.00px;font-size:11.7px;line-height:11.7px;font-weight:400;color:#111827;white-space:nowrap;-webkit-text-stroke:0.4px #111827;left:667.60px;">$18000.00</div>
<div style="position:absolute;left:837.00px;top:426.95px;width:51.00px;height:16.50px;background:#eff6ff;border:1px solid #c9defc;border-radius:9px;box-sizing:border-box;"></div>
<div style="position:absolute;top:430.27px;font-size:9.6px;line-height:9.6px;font-weight:400;color:#1d4ed8;white-space:nowrap;-webkit-text-stroke:0.3px #1d4ed8;left:562.40px;width:600px;text-align:center;">Vendible</div>
<div style="position:absolute;left:980.00px;top:425.25px;width:27.00px;height:15.30px;background:#069669;border-radius:8px;"></div>
<div style="position:absolute;left:992.10px;top:426.85px;width:12.00px;height:12.00px;background:#fff;border-radius:50%;"></div>
<div style="position:absolute;left:1068.20px;top:425.95px;width:17.50px;height:18.30px;background:#fff;border:1px solid #edf0f4;border-radius:4px;box-sizing:border-box;"></div>
<svg style="position:absolute;left:1066px;top:423.75px" width="22" height="22" viewBox="0 0 22 22" fill="none" stroke="#dc2626" stroke-width="1.15" stroke-linecap="round" stroke-linejoin="round"><path d="M6.65 8.4H15.05"/><path d="M9 8.4V7.4a0.8 0.8 0 0 1 .8-.8h2.4a.8 .8 0 0 1 .8.8V8.4"/><path d="M7.5 8.4V15.2a.9 .9 0 0 0 .9.9h5.2a.9 .9 0 0 0 .9-.9V8.4"/><path d="M10 10.6V14"/><path d="M12 10.6V14"/></svg>
<div style="position:absolute;left:48.00px;top:461.25px;width:1077.00px;height:51.75px;background:#f8fafc;"></div>
<div style="position:absolute;left:48.00px;top:512.00px;width:1077.00px;height:1.00px;background:#e9edf2;"></div>
<div style="position:absolute;left:72.20px;top:478.55px;width:12.20px;height:12.20px;background:#fff;border:1px solid #939dab;border-radius:2.5px;box-sizing:border-box;"></div>
<div style="position:absolute;top:475.75px;font-size:10.75px;line-height:10.75px;font-weight:400;color:#111827;white-space:nowrap;-webkit-text-stroke:0.3px #111827;left:129.30px;">Brownie</div>
<div style="position:absolute;top:490.11px;font-size:9.5px;line-height:9.5px;font-weight:400;color:#6f7c8e;white-space:nowrap;-webkit-text-stroke:0.1px #6f7c8e;font-family:'Liberation Mono', monospace;letter-spacing:-0.45px;left:129.50px;">POST-004</div>
<div style="position:absolute;top:481.66px;font-size:10.5px;line-height:10.5px;font-weight:400;color:#6b7889;white-space:nowrap;left:336.70px;">Postres</div>
<div style="position:absolute;top:480.94px;font-size:11px;line-height:11px;font-weight:700;color:#1f2937;white-space:nowrap;left:502.30px;">-</div>
<div style="position:absolute;top:480.75px;font-size:11.7px;line-height:11.7px;font-weight:400;color:#111827;white-space:nowrap;-webkit-text-stroke:0.4px #111827;left:667.60px;">$5000.00</div>
<div style="position:absolute;left:837.00px;top:478.70px;width:51.00px;height:16.50px;background:#eff6ff;border:1px solid #c9defc;border-radius:9px;box-sizing:border-box;"></div>
<div style="position:absolute;top:482.02px;font-size:9.6px;line-height:9.6px;font-weight:400;color:#1d4ed8;white-space:nowrap;-webkit-text-stroke:0.3px #1d4ed8;left:562.40px;width:600px;text-align:center;">Vendible</div>
<div style="position:absolute;left:980.00px;top:477.00px;width:27.00px;height:15.30px;background:#069669;border-radius:8px;"></div>
<div style="position:absolute;left:992.10px;top:478.60px;width:12.00px;height:12.00px;background:#fff;border-radius:50%;"></div>
<div style="position:absolute;left:1068.20px;top:477.70px;width:17.50px;height:18.30px;background:#fff;border:1px solid #edf0f4;border-radius:4px;box-sizing:border-box;"></div>
<svg style="position:absolute;left:1066px;top:475.50px" width="22" height="22" viewBox="0 0 22 22" fill="none" stroke="#dc2626" stroke-width="1.15" stroke-linecap="round" stroke-linejoin="round"><path d="M6.65 8.4H15.05"/><path d="M9 8.4V7.4a0.8 0.8 0 0 1 .8-.8h2.4a.8 .8 0 0 1 .8.8V8.4"/><path d="M7.5 8.4V15.2a.9 .9 0 0 0 .9.9h5.2a.9 .9 0 0 0 .9-.9V8.4"/><path d="M10 10.6V14"/><path d="M12 10.6V14"/></svg>
<div style="position:absolute;left:48.00px;top:563.75px;width:1077.00px;height:1.00px;background:#e9edf2;"></div>
<div style="position:absolute;left:72.20px;top:530.30px;width:12.20px;height:12.20px;background:#fff;border:1px solid #939dab;border-radius:2.5px;box-sizing:border-box;"></div>
<div style="position:absolute;top:527.50px;font-size:10.75px;line-height:10.75px;font-weight:400;color:#111827;white-space:nowrap;-webkit-text-stroke:0.3px #111827;left:129.30px;">Café Cortado</div>
<div style="position:absolute;top:541.86px;font-size:9.5px;line-height:9.5px;font-weight:400;color:#6f7c8e;white-space:nowrap;-webkit-text-stroke:0.1px #6f7c8e;font-family:'Liberation Mono', monospace;letter-spacing:-0.45px;left:129.50px;">CAF-002</div>
<div style="position:absolute;top:533.41px;font-size:10.5px;line-height:10.5px;font-weight:400;color:#6b7889;white-space:nowrap;left:336.70px;">Bebidas</div>
<div style="position:absolute;top:532.69px;font-size:11px;line-height:11px;font-weight:700;color:#1f2937;white-space:nowrap;left:502.30px;">-</div>
<div style="position:absolute;top:532.50px;font-size:11.7px;line-height:11.7px;font-weight:400;color:#111827;white-space:nowrap;-webkit-text-stroke:0.4px #111827;left:667.60px;">$2400.00</div>
<div style="position:absolute;left:837.00px;top:530.45px;width:51.00px;height:16.50px;background:#eff6ff;border:1px solid #c9defc;border-radius:9px;box-sizing:border-box;"></div>
<div style="position:absolute;top:533.77px;font-size:9.6px;line-height:9.6px;font-weight:400;color:#1d4ed8;white-space:nowrap;-webkit-text-stroke:0.3px #1d4ed8;left:562.40px;width:600px;text-align:center;">Vendible</div>
<div style="position:absolute;left:980.00px;top:528.75px;width:27.00px;height:15.30px;background:#069669;border-radius:8px;"></div>
<div style="position:absolute;left:992.10px;top:530.35px;width:12.00px;height:12.00px;background:#fff;border-radius:50%;"></div>
<div style="position:absolute;left:1068.20px;top:529.45px;width:17.50px;height:18.30px;background:#fff;border:1px solid #edf0f4;border-radius:4px;box-sizing:border-box;"></div>
<svg style="position:absolute;left:1066px;top:527.25px" width="22" height="22" viewBox="0 0 22 22" fill="none" stroke="#dc2626" stroke-width="1.15" stroke-linecap="round" stroke-linejoin="round"><path d="M6.65 8.4H15.05"/><path d="M9 8.4V7.4a0.8 0.8 0 0 1 .8-.8h2.4a.8 .8 0 0 1 .8.8V8.4"/><path d="M7.5 8.4V15.2a.9 .9 0 0 0 .9.9h5.2a.9 .9 0 0 0 .9-.9V8.4"/><path d="M10 10.6V14"/><path d="M12 10.6V14"/></svg>
<div style="position:absolute;left:48.00px;top:615.50px;width:1077.00px;height:1.00px;background:#e9edf2;"></div>
<div style="position:absolute;left:72.20px;top:582.05px;width:12.20px;height:12.20px;background:#fff;border:1px solid #939dab;border-radius:2.5px;box-sizing:border-box;"></div>
<div style="position:absolute;top:579.25px;font-size:10.75px;line-height:10.75px;font-weight:400;color:#111827;white-space:nowrap;-webkit-text-stroke:0.3px #111827;left:129.30px;">Café Expresso</div>
<div style="position:absolute;top:593.61px;font-size:9.5px;line-height:9.5px;font-weight:400;color:#6f7c8e;white-space:nowrap;-webkit-text-stroke:0.1px #6f7c8e;font-family:'Liberation Mono', monospace;letter-spacing:-0.45px;left:129.50px;">CAF-001</div>
<div style="position:absolute;top:585.16px;font-size:10.5px;line-height:10.5px;font-weight:400;color:#6b7889;white-space:nowrap;left:336.70px;">Bebidas</div>
<div style="position:absolute;top:584.44px;font-size:11px;line-height:11px;font-weight:700;color:#1f2937;white-space:nowrap;left:502.30px;">-</div>
<div style="position:absolute;top:584.25px;font-size:11.7px;line-height:11.7px;font-weight:400;color:#111827;white-space:nowrap;-webkit-text-stroke:0.4px #111827;left:667.60px;">$2200.00</div>
<div style="position:absolute;left:837.00px;top:582.20px;width:51.00px;height:16.50px;background:#eff6ff;border:1px solid #c9defc;border-radius:9px;box-sizing:border-box;"></div>
<div style="position:absolute;top:585.52px;font-size:9.6px;line-height:9.6px;font-weight:400;color:#1d4ed8;white-space:nowrap;-webkit-text-stroke:0.3px #1d4ed8;left:562.40px;width:600px;text-align:center;">Vendible</div>
<div style="position:absolute;left:980.00px;top:580.50px;width:27.00px;height:15.30px;background:#069669;border-radius:8px;"></div>
<div style="position:absolute;left:992.10px;top:582.10px;width:12.00px;height:12.00px;background:#fff;border-radius:50%;"></div>
<div style="position:absolute;left:1068.20px;top:581.20px;width:17.50px;height:18.30px;background:#fff;border:1px solid #edf0f4;border-radius:4px;box-sizing:border-box;"></div>
<svg style="position:absolute;left:1066px;top:579.00px" width="22" height="22" viewBox="0 0 22 22" fill="none" stroke="#dc2626" stroke-width="1.15" stroke-linecap="round" stroke-linejoin="round"><path d="M6.65 8.4H15.05"/><path d="M9 8.4V7.4a0.8 0.8 0 0 1 .8-.8h2.4a.8 .8 0 0 1 .8.8V8.4"/><path d="M7.5 8.4V15.2a.9 .9 0 0 0 .9.9h5.2a.9 .9 0 0 0 .9-.9V8.4"/><path d="M10 10.6V14"/><path d="M12 10.6V14"/></svg>
<div style="position:absolute;left:48.00px;top:667.25px;width:1077.00px;height:1.00px;background:#e9edf2;"></div>
<div style="position:absolute;left:72.20px;top:633.80px;width:12.20px;height:12.20px;background:#fff;border:1px solid #939dab;border-radius:2.5px;box-sizing:border-box;"></div>
<div style="position:absolute;top:631.00px;font-size:10.75px;line-height:10.75px;font-weight:400;color:#111827;white-space:nowrap;-webkit-text-stroke:0.3px #111827;left:129.30px;">Café con Leche</div>
<div style="position:absolute;top:645.36px;font-size:9.5px;line-height:9.5px;font-weight:400;color:#6f7c8e;white-space:nowrap;-webkit-text-stroke:0.1px #6f7c8e;font-family:'Liberation Mono', monospace;letter-spacing:-0.45px;left:129.50px;">CAF-003</div>
<div style="position:absolute;top:636.91px;font-size:10.5px;line-height:10.5px;font-weight:400;color:#6b7889;white-space:nowrap;left:336.70px;">Bebidas</div>
<div style="position:absolute;left:502.00px;top:638.80px;width:6.00px;height:6.00px;background:#f59e0b;border-radius:50%;"></div>
<div style="position:absolute;top:636.42px;font-size:11.2px;line-height:11.2px;font-weight:400;color:#1f2937;white-space:nowrap;-webkit-text-stroke:0.25px #1f2937;left:512.30px;">$135.00</div>
<div style="position:absolute;top:636.00px;font-size:11.7px;line-height:11.7px;font-weight:400;color:#111827;white-space:nowrap;-webkit-text-stroke:0.4px #111827;left:667.60px;">$2800.00</div>
<div style="position:absolute;left:837.00px;top:633.95px;width:51.00px;height:16.50px;background:#eff6ff;border:1px solid #c9defc;border-radius:9px;box-sizing:border-box;"></div>
<div style="position:absolute;top:637.27px;font-size:9.6px;line-height:9.6px;font-weight:400;color:#1d4ed8;white-space:nowrap;-webkit-text-stroke:0.3px #1d4ed8;left:562.40px;width:600px;text-align:center;">Vendible</div>
<div style="position:absolute;left:980.00px;top:632.25px;width:27.00px;height:15.30px;background:#069669;border-radius:8px;"></div>
<div style="position:absolute;left:992.10px;top:633.85px;width:12.00px;height:12.00px;background:#fff;border-radius:50%;"></div>
<div style="position:absolute;left:1068.20px;top:632.95px;width:17.50px;height:18.30px;background:#fff;border:1px solid #edf0f4;border-radius:4px;box-sizing:border-box;"></div>
<svg style="position:absolute;left:1066px;top:630.75px" width="22" height="22" viewBox="0 0 22 22" fill="none" stroke="#dc2626" stroke-width="1.15" stroke-linecap="round" stroke-linejoin="round"><path d="M6.65 8.4H15.05"/><path d="M9 8.4V7.4a0.8 0.8 0 0 1 .8-.8h2.4a.8 .8 0 0 1 .8.8V8.4"/><path d="M7.5 8.4V15.2a.9 .9 0 0 0 .9.9h5.2a.9 .9 0 0 0 .9-.9V8.4"/><path d="M10 10.6V14"/><path d="M12 10.6V14"/></svg>
<div style="position:absolute;left:48.00px;top:719.00px;width:1077.00px;height:1.00px;background:#e9edf2;"></div>
<div style="position:absolute;left:72.20px;top:685.55px;width:12.20px;height:12.20px;background:#fff;border:1px solid #939dab;border-radius:2.5px;box-sizing:border-box;"></div>
<div style="position:absolute;top:682.75px;font-size:10.75px;line-height:10.75px;font-weight:400;color:#111827;white-space:nowrap;-webkit-text-stroke:0.3px #111827;left:129.30px;">Capuccino</div>
<div style="position:absolute;top:697.11px;font-size:9.5px;line-height:9.5px;font-weight:400;color:#6f7c8e;white-space:nowrap;-webkit-text-stroke:0.1px #6f7c8e;font-family:'Liberation Mono', monospace;letter-spacing:-0.45px;left:129.50px;">CAF-004</div>
<div style="position:absolute;top:688.66px;font-size:10.5px;line-height:10.5px;font-weight:400;color:#6b7889;white-space:nowrap;left:336.70px;">Bebidas</div>
<div style="position:absolute;top:687.94px;font-size:11px;line-height:11px;font-weight:700;color:#1f2937;white-space:nowrap;left:502.30px;">-</div>
<div style="position:absolute;top:687.75px;font-size:11.7px;line-height:11.7px;font-weight:400;color:#111827;white-space:nowrap;-webkit-text-stroke:0.4px #111827;left:667.60px;">$3200.00</div>
<div style="position:absolute;left:837.00px;top:685.70px;width:51.00px;height:16.50px;background:#eff6ff;border:1px solid #c9defc;border-radius:9px;box-sizing:border-box;"></div>
<div style="position:absolute;top:689.02px;font-size:9.6px;line-height:9.6px;font-weight:400;color:#1d4ed8;white-space:nowrap;-webkit-text-stroke:0.3px #1d4ed8;left:562.40px;width:600px;text-align:center;">Vendible</div>
<div style="position:absolute;left:980.00px;top:684.00px;width:27.00px;height:15.30px;background:#069669;border-radius:8px;"></div>
<div style="position:absolute;left:992.10px;top:685.60px;width:12.00px;height:12.00px;background:#fff;border-radius:50%;"></div>
<div style="position:absolute;left:1068.20px;top:684.70px;width:17.50px;height:18.30px;background:#fff;border:1px solid #edf0f4;border-radius:4px;box-sizing:border-box;"></div>
<svg style="position:absolute;left:1066px;top:682.50px" width="22" height="22" viewBox="0 0 22 22" fill="none" stroke="#dc2626" stroke-width="1.15" stroke-linecap="round" stroke-linejoin="round"><path d="M6.65 8.4H15.05"/><path d="M9 8.4V7.4a0.8 0.8 0 0 1 .8-.8h2.4a.8 .8 0 0 1 .8.8V8.4"/><path d="M7.5 8.4V15.2a.9 .9 0 0 0 .9.9h5.2a.9 .9 0 0 0 .9-.9V8.4"/><path d="M10 10.6V14"/><path d="M12 10.6V14"/></svg>
<div style="position:absolute;left:48.00px;top:770.75px;width:1077.00px;height:1.00px;background:#e9edf2;"></div>
<div style="position:absolute;left:72.20px;top:737.30px;width:12.20px;height:12.20px;background:#fff;border:1px solid #939dab;border-radius:2.5px;box-sizing:border-box;"></div>
<div style="position:absolute;top:734.50px;font-size:10.75px;line-height:10.75px;font-weight:400;color:#111827;white-space:nowrap;-webkit-text-stroke:0.3px #111827;left:129.30px;">Carne Molida</div>
<div style="position:absolute;top:748.86px;font-size:9.5px;line-height:9.5px;font-weight:400;color:#6f7c8e;white-space:nowrap;-webkit-text-stroke:0.1px #6f7c8e;font-family:'Liberation Mono', monospace;letter-spacing:-0.45px;left:129.50px;">ING-001</div>
<div style="position:absolute;top:740.41px;font-size:10.5px;line-height:10.5px;font-weight:400;color:#6b7889;white-space:nowrap;left:336.70px;">Insumos</div>
<div style="position:absolute;left:502.00px;top:742.30px;width:6.00px;height:6.00px;background:#3d9c7e;border-radius:50%;"></div>
<div style="position:absolute;top:739.92px;font-size:11.2px;line-height:11.2px;font-weight:400;color:#1f2937;white-space:nowrap;-webkit-text-stroke:0.25px #1f2937;left:512.30px;">$3500.00</div>
<div style="position:absolute;top:739.69px;font-size:11px;line-height:11px;font-weight:700;color:#1f2937;white-space:nowrap;left:668.00px;">-</div>
<div style="position:absolute;left:831.00px;top:737.45px;width:63.00px;height:16.50px;background:#faf5ff;border:1px solid #ead8fc;border-radius:9px;box-sizing:border-box;"></div>
<div style="position:absolute;top:740.65px;font-size:9.75px;line-height:9.75px;font-weight:400;color:#9333ea;white-space:nowrap;-webkit-text-stroke:0.3px #9333ea;left:562.40px;width:600px;text-align:center;">Ingrediente</div>
<div style="position:absolute;left:980.00px;top:735.75px;width:27.00px;height:15.30px;background:#069669;border-radius:8px;"></div>
<div style="position:absolute;left:992.10px;top:737.35px;width:12.00px;height:12.00px;background:#fff;border-radius:50%;"></div>
<div style="position:absolute;left:1068.20px;top:736.45px;width:17.50px;height:18.30px;background:#fff;border:1px solid #edf0f4;border-radius:4px;box-sizing:border-box;"></div>
<svg style="position:absolute;left:1066px;top:734.25px" width="22" height="22" viewBox="0 0 22 22" fill="none" stroke="#dc2626" stroke-width="1.15" stroke-linecap="round" stroke-linejoin="round"><path d="M6.65 8.4H15.05"/><path d="M9 8.4V7.4a0.8 0.8 0 0 1 .8-.8h2.4a.8 .8 0 0 1 .8.8V8.4"/><path d="M7.5 8.4V15.2a.9 .9 0 0 0 .9.9h5.2a.9 .9 0 0 0 .9-.9V8.4"/><path d="M10 10.6V14"/><path d="M12 10.6V14"/></svg>
<div style="position:absolute;left:48.00px;top:771.75px;width:1077.00px;height:3.25px;background:#fff;"></div>
<div style="position:absolute;left:48.00px;top:775.00px;width:1077.00px;height:35.00px;background:#f8fafc;border-top:1px solid #e9edf2;box-sizing:border-box;"></div>
<div style="position:absolute;top:787.82px;font-size:10.85px;line-height:10.85px;font-weight:400;color:#6b7889;white-space:nowrap;left:72.60px;">Mostrando 1 a 90 de 90</div>
<div style="position:absolute;top:787.94px;font-size:10.7px;line-height:10.7px;font-weight:400;color:#6b7889;white-space:nowrap;left:199.90px;">Elementos por página:</div>
<div style="position:absolute;left:314.00px;top:782.40px;width:45.50px;height:21.00px;background:#fff;border:1px solid #e8ecf1;border-radius:5px;box-sizing:border-box;"></div>
<div style="position:absolute;top:788.06px;font-size:10.8px;line-height:10.8px;font-weight:400;color:#111827;white-space:nowrap;-webkit-text-stroke:0.2px #111827;left:323.30px;">100</div>
<svg style="position:absolute;left:348.00px;top:788.50px" width="10.4" height="8.4" viewBox="0 0 10.4 8.4" fill="none" stroke="#111827" stroke-width="1.7" stroke-linecap="round" stroke-linejoin="round"><path d="M2.85 2.85 L5.2 5.550000000000001 L7.550000000000001 2.85"/></svg>
<div style="position:absolute;left:1259.00px;top:315.00px;width:48.00px;height:48.00px;background:#f1f4f8;border-radius:50%;"></div>
<svg style="position:absolute;left:1270.80px;top:326.80px;" width="24" height="24" viewBox="0 0 24 24" fill="none" stroke="#64748b" stroke-width="1.7" stroke-linecap="round" stroke-linejoin="round"><path d="M11 21.73a2 2 0 0 0 2 0l7-4A2 2 0 0 0 21 16V8a2 2 0 0 0-1-1.73l-7-4a2 2 0 0 0-2 0l-7 4A2 2 0 0 0 3 8v8a2 2 0 0 0 1 1.73z"/><path d="M12 22V12"/><path d="m3.3 7 7.703 4.734a2 2 0 0 0 1.994 0L20.7 7"/><path d="m7.5 4.27 9 5.15"/></svg>
<div style="position:absolute;top:379.01px;font-size:12.75px;line-height:12.75px;font-weight:700;color:#111827;white-space:nowrap;left:982.60px;width:600px;text-align:center;">Selecciona un producto</div>
<div style="position:absolute;top:403.97px;font-size:10.9px;line-height:10.9px;font-weight:400;color:#64748b;white-space:nowrap;left:982.80px;width:600px;text-align:center;">Selecciona un producto de la lista</div>
<div style="position:absolute;top:418.97px;font-size:10.9px;line-height:10.9px;font-weight:400;color:#64748b;white-space:nowrap;left:982.80px;width:600px;text-align:center;">para ver sus detalles o crea uno</div>
<div style="position:absolute;top:433.97px;font-size:10.9px;line-height:10.9px;font-weight:400;color:#64748b;white-space:nowrap;left:982.80px;width:600px;text-align:center;">nuevo.</div>
<div style="position:absolute;left:1217.40px;top:465.30px;width:130.30px;height:29.00px;background:#fff;border:1px solid #e5e9ef;border-radius:5px;box-sizing:border-box;"></div>
<svg style="position:absolute;left:1229.20px;top:473.80px;" width="13" height="13" viewBox="0 0 24 24" fill="none" stroke="#111827" stroke-width="2.3" stroke-linecap="round" stroke-linejoin="round"><path d="M5 12h14"/><path d="M12 5v14"/></svg>
<div style="position:absolute;top:475.19px;font-size:11.0px;line-height:11.0px;font-weight:400;color:#111827;white-space:nowrap;-webkit-text-stroke:0.4px #111827;left:1248.10px;">Agregar Producto</div>
</body></html>
